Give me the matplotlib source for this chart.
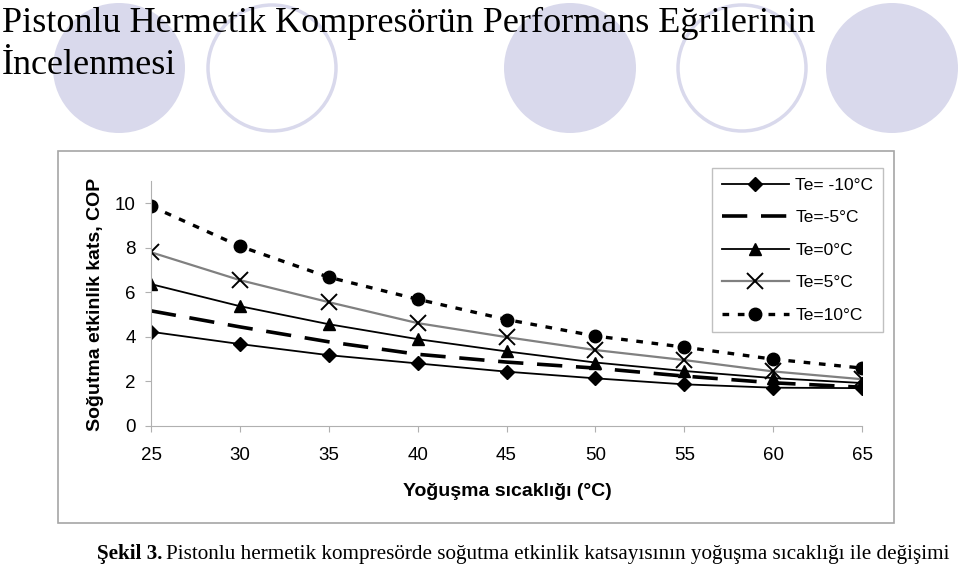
import numpy as np
import matplotlib.pyplot as plt
from matplotlib.patches import Ellipse, Rectangle

# Data
cond_temp = [25, 30, 35, 40, 45, 50, 55, 60, 65]  # Yoğuşma sıcaklığı (°C)
cop_m10 = [4.23, 3.68, 3.18, 2.81, 2.44, 2.14, 1.87, 1.72, 1.70]
cop_m5 = [5.17, 4.45, 3.78, 3.22, 2.87, 2.60, 2.24, 1.94, 1.74]
cop_0 = [6.37, 5.38, 4.57, 3.90, 3.35, 2.85, 2.47, 2.15, 1.93]
cop_5 = [7.80, 6.55, 5.56, 4.62, 3.99, 3.41, 2.96, 2.45, 2.10]
cop_10 = [9.87, 8.07, 6.68, 5.69, 4.78, 4.04, 3.54, 3.00, 2.60]
series_labels = ["Te= -10°C", "Te=-5°C", "Te=0°C", "Te=5°C", "Te=10°C"]
y_ticks = [0, 2, 4, 6, 8, 10]

W, H = 960, 567
fig = plt.figure(figsize=(9.6, 5.67), dpi=100)

def fx(px):
    return px / W

def fy(py):
    return 1 - py / H

# decorative circles in the slide background
lav = '#d9d9ec'
for cx, filled in [(119, True), (272, False), (570, True), (742, False), (892, True)]:
    if filled:
        e = Ellipse((fx(cx), fy(68)), 132 / W, 130 / H, transform=fig.transFigure,
                    facecolor=lav, edgecolor='none', zorder=0)
    else:
        e = Ellipse((fx(cx), fy(68)), 128 / W, 126 / H, transform=fig.transFigure,
                    facecolor='none', edgecolor=lav, linewidth=2.5, zorder=0)
    fig.add_artist(e)

# slide title
fig.text(fx(2), fy(32), "Pistonlu Hermetik Kompresörün Performans Eğrilerinin",
         family='Liberation Serif', fontsize=26, va='baseline', ha='left', zorder=3)
fig.text(fx(2), fy(74), "İncelenmesi",
         family='Liberation Serif', fontsize=26, va='baseline', ha='left', zorder=3)

# chart frame
fig.add_artist(Rectangle((fx(58), fy(523)), (894 - 58) / W, (523 - 151) / H,
                         transform=fig.transFigure, facecolor='white',
                         edgecolor='#a6a6a6', linewidth=1.2, zorder=1))

ax = fig.add_axes([fx(151), fy(426), (862 - 151) / W, (426 - 181) / H], zorder=2)
ax.patch.set_alpha(0)

ax.plot(cond_temp, cop_m10, color='black', lw=1.3, marker='D', ms=7, label=series_labels[0])
ax.plot(cond_temp, cop_m5, color='black', lw=2.6, ls=(0, (7, 3.8)), label=series_labels[1])
ax.plot(cond_temp, cop_0, color='black', lw=1.3, marker='^', ms=8, label=series_labels[2])
ax.plot(cond_temp, cop_5, color='#808080', lw=1.6, marker='x', ms=11.5, mew=1.4,
        mec='black', label=series_labels[3])
ax.plot(cond_temp, cop_10, color='black', lw=2.4, ls=(0, (2.0, 2.6)), marker='o', ms=9,
        label=series_labels[4])

ax.set_xlim(25, 65)
ax.set_ylim(0, 11)
ax.set_xticks(cond_temp)
ax.set_yticks(y_ticks)
for s in ['top', 'right']:
    ax.spines[s].set_visible(False)
for s in ['left', 'bottom']:
    ax.spines[s].set_color('#b0b0b0')
ax.tick_params(colors='#b0b0b0', labelcolor='black', length=4, labelsize=13.5)
ax.tick_params(axis='x', pad=11)
ax.tick_params(axis='y', pad=7)
for lab in ax.get_xticklabels() + ax.get_yticklabels():
    lab.set_family('Liberation Sans')

fig.text(fx(95), fy(304), "Soğutma etkinlik kats, COP", rotation=90, family='Liberation Sans',
         fontweight='bold', fontsize=14, ha='center', va='center', zorder=3)
fig.text(fx(507), fy(491), "Yoğuşma sıcaklığı (°C)", family='Liberation Sans',
         fontweight='bold', fontsize=14, ha='center', va='center', zorder=3)

leg = ax.legend(loc='upper left', bbox_to_anchor=(fx(712), fy(168)),
                bbox_transform=fig.transFigure, prop={'family': 'Liberation Sans', 'size': 12.5},
                frameon=True, fancybox=False, framealpha=1, edgecolor='#c0c0c0',
                handlelength=3.9, labelspacing=1.0, borderpad=0.55, handletextpad=0.35,
                borderaxespad=0)
leg.get_frame().set_linewidth(1.0)

# caption: bold part + normal part
cap1 = fig.text(fx(97), fy(559), "Şekil 3.", family='Liberation Serif', fontweight='bold',
                fontsize=15.2, va='baseline', ha='left')
fig.canvas.draw()
bb = cap1.get_window_extent()
fig.text(bb.x1 / W + 4 / W, fy(559),
         "Pistonlu hermetik kompresörde soğutma etkinlik katsayısının yoğuşma sıcaklığı ile değişimi",
         family='Liberation Serif', fontsize=15.2, va='baseline', ha='left')

fig.savefig('out.png', dpi=100)
